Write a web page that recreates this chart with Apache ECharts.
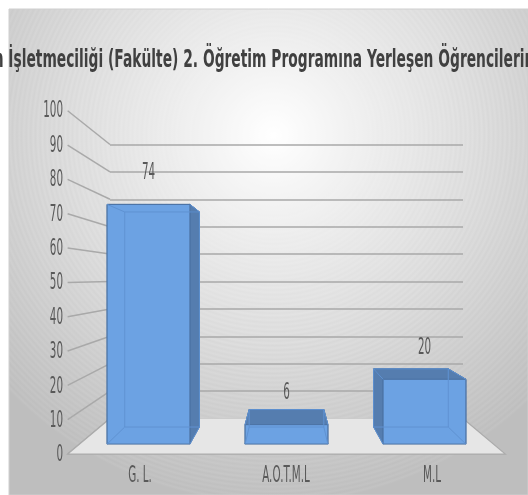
<!DOCTYPE html>
<html><head><meta charset="utf-8">
<style>html,body{margin:0;padding:0;background:#fff}#c{width:528px;height:495px}</style>
<script src="https://cdn.jsdelivr.net/npm/echarts@6/dist/echarts.min.js"></script>
</head><body><div id="c"></div>
<script>
const categories = ['G. L.', 'A.O.T.M.L', 'M.L'];
const values = [74, 6, 20];
const tickLabels = ['0','10','20','30','40','50','60','70','80','90','100'];
const titleText = 'n İşletmeciliği (Fakülte) 2. Öğretim Programına Yerleşen Öğrencilerin';

const chart = echarts.init(document.getElementById('c'), null, {renderer:'canvas'});
const W = 528, H = 495;
const SX = 0.24, SY = 0.253;     // depth growth of the perspective
const VX = 286.5, VY = 278;      // vanishing point
const D0 = 0.24, D1 = 0.72;      // bar depth range
const BAR = 0.6;                 // bar width vs band
const INK = '#595959', GRID = '#a9a9a9';
const FONT = '"DejaVu Sans"';
const project = (p, d) => [VX + (p[0]-VX)*(1+SX*d), VY + (p[1]-VY)*(1+SY*d)];
const txt = (x,y,t,size,align,sx,weight) => ({type:'text', x, y:y+1.5, scaleX:sx, scaleY:1, z2:30,
  style:{text:t, fill:INK, font:(weight||'normal')+' '+size+'px '+FONT, align, verticalAlign:'middle'}});

function floorItem(params, api){
  const a=api.coord([0,0]), bw=api.size([1,0])[0];
  const bl=[a[0]-bw/2,a[1]], br=[bl[0]+bw*3,a[1]];
  const fl=project(bl,1), fr=project(br,1);
  return {type:'group',children:[
    {type:'polygon',z2:5,shape:{points:[bl,br,fr,fl]},style:{fill:'#e6e6e6'}},
    {type:'polyline',z2:6,shape:{points:[bl,fl,fr,br]},style:{fill:'none',stroke:'#ababab',lineWidth:1.2}}
  ]};
}
function wallItem(params, api){
  const v=api.value(0);
  const a=api.coord([0,v]), bw=api.size([1,0])[0];
  const bl=[a[0]-bw/2,a[1]], fl=project(bl,1);
  return {type:'line',z2:1,shape:{x1:bl[0],y1:bl[1],x2:fl[0],y2:fl[1]},style:{stroke:GRID,lineWidth:1.5}};
}
function barItem(params, api){
  const i=api.value(0), v=api.value(1);
  const bw=api.size([1,0])[0]*BAR/2;
  const c0=api.coord([i,0]), c1=api.coord([i,v]);
  const P=(sx,top,d)=>project([c0[0]+sx*bw, top?c1[1]:c0[1]],d);
  const bTL=P(-1,1,D0),bTR=P(1,1,D0),bBL=P(-1,0,D0),bBR=P(1,0,D0);
  const fTL=P(-1,1,D1),fTR=P(1,1,D1),fBL=P(-1,0,D1),fBR=P(1,0,D1);
  const edge='#4c72a3', inner='#5f92d2', dark='#557daf', front='#6ca2e3';
  const poly=(pts,fill,z)=>({type:'polygon',z2:z,shape:{points:pts},style:{fill,stroke:edge,lineWidth:1}});
  const seg=(p,q)=>({type:'line',z2:14,shape:{x1:p[0],y1:p[1],x2:q[0],y2:q[1]},style:{stroke:inner,lineWidth:1}});
  const ch=[
    poly([bTL,bTR,bBR,bBL],front,10),
    poly([bTL,fTL,fBL,bBL],dark,11),
    poly([bTR,fTR,fBR,bBR],dark,11),
    poly([bTL,bTR,fTR,fTL],dark,12),
    poly([fTL,fTR,fBR,fBL],front,13),
    seg(bTL,bTR),seg(bTL,bBL),seg(bTR,bBR),seg(bBL,bBR),seg(bBL,fBL),seg(bBR,fBR),seg(bTL,fTL),seg(bTR,fTR)
  ];
  ch.push(txt(project(c1,D1)[0], project(c1,D1)[1]-33, String(v), 23, 'center', 0.45));
  return {type:'group',children:ch};
}
function yLabelItem(params, api){
  const t=tickLabels[params.dataIndex], p=api.coord([0,+t]), bw=api.size([1,0])[0];
  return txt(p[0]-bw/2-4,p[1],t,23,'right',0.45);
}
function xLabelItem(params, api){
  const p=api.coord([api.value(0),0]);
  return txt(p[0],p[1]+21,categories[params.dataIndex],23,'center',0.45);
}

// soft radial panel with the faint concentric bands seen in the reference
const stops=[];
for(let s=0;s<=200;s++){
  const t=s/200;
  const k=t<0.78?255-t*83:190.3;
  const amp=Math.max(0,Math.min(1,(t-0.15)/0.3))*(t<0.8?5:0);
  const g=Math.min(255,Math.round(k+(s%2===0?amp:0)));
  stops.push({offset:t,color:'rgb('+g+','+g+','+g+')'});
}
const grad = new echarts.graphic.RadialGradient(0.51,0.26,0.95,stops);

chart.setOption({
  animation:false,
  backgroundColor:'#ffffff',
  graphic:[
    {type:'rect',z:-10,silent:true,shape:{x:9,y:9,width:W-9,height:H-9},style:{fill:grad,stroke:'#cfcfcf',lineWidth:1}},
    {type:'text',z:50,silent:true,x:W/2,y:60,scaleX:0.553,
     style:{text:titleText,fill:'#404040',font:'bold 25px '+FONT,align:'center',verticalAlign:'middle'}}
  ],
  grid:[
    {left:110,right:W-463,top:144.5,bottom:H-418.5},
    {left:67,right:W-505,top:110,bottom:H-454}
  ],
  xAxis:[
    {gridIndex:0,type:'category',data:categories,axisLine:{show:false},axisTick:{show:false},axisLabel:{show:false}},
    {gridIndex:1,type:'category',data:categories,axisLine:{show:false},axisTick:{show:false},axisLabel:{show:false}}
  ],
  yAxis:[
    {gridIndex:0,type:'value',min:0,max:100,interval:10,axisLine:{show:false},axisTick:{show:false},axisLabel:{show:false},
     splitLine:{show:true,lineStyle:{color:GRID,width:1.5}}},
    {gridIndex:1,type:'value',min:0,max:100,interval:10,axisLine:{show:false},axisTick:{show:false},axisLabel:{show:false},splitLine:{show:false}}
  ],
  series:[
    {type:'custom',xAxisIndex:0,yAxisIndex:0,z:1,silent:true,data:tickLabels.map(Number).map(v=>[v]),encode:{y:0},renderItem:wallItem,clip:false},
    {type:'custom',xAxisIndex:0,yAxisIndex:0,z:2,silent:true,data:[[0]],encode:{y:0},renderItem:floorItem,clip:false},
    {type:'custom',xAxisIndex:0,yAxisIndex:0,z:3,silent:true,data:values.map((v,i)=>[i,v]),encode:{x:0,y:1},renderItem:barItem,clip:false},
    {type:'custom',xAxisIndex:1,yAxisIndex:1,z:4,silent:true,data:tickLabels.map(Number).map(v=>[v]),encode:{y:0},renderItem:yLabelItem,clip:false},
    {type:'custom',xAxisIndex:1,yAxisIndex:1,z:4,silent:true,data:categories.map((c,i)=>[i]),encode:{x:0},renderItem:xLabelItem,clip:false}
  ]
});
</script></body></html>
